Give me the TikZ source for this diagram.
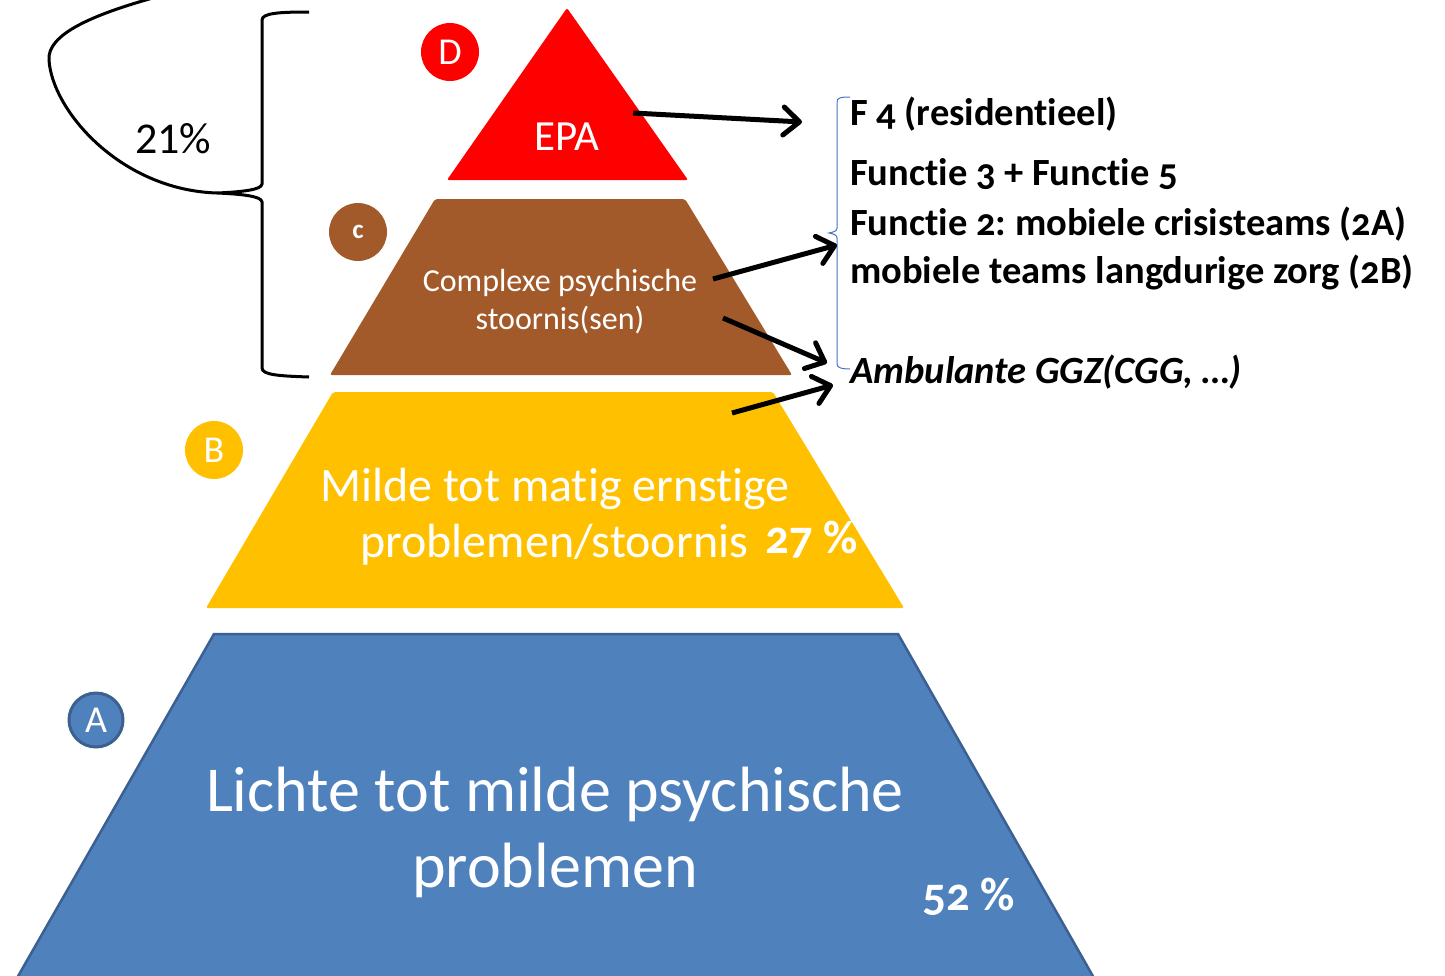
\documentclass[tikz,border=0pt]{standalone}
\usepackage{fontspec}
\setmainfont{Carlito}[Numbers=OldStyle, Ligatures=CommonOff]
\newfontfamily\lining{Carlito}
\usetikzlibrary{arrows.meta}
\definecolor{epared}{HTML}{FF0000}
\definecolor{cbrown}{HTML}{A25A2B}
\definecolor{byellow}{HTML}{FFC000}
\definecolor{ablue}{HTML}{4F81BD}
\definecolor{ablueline}{HTML}{3B6091}
\definecolor{bracblue}{HTML}{4472C4}
\tikzset{
  wtext/.style={text=white, inner sep=0pt},
  btext/.style={text=black, inner sep=0pt, anchor=base west, font=\fontsize{38.5}{46}\selectfont\bfseries},
  badge/.style={circle, minimum size=58pt, inner sep=0pt, text=white, font=\fontsize{38}{42}\selectfont},
  arr/.style={line width=5pt, -{Straight Barb[round, length=16pt,width=28pt]}},
}
\frenchspacing
\begin{document}
\frenchspacing
\begin{tikzpicture}[x=1pt,y=-1pt]
\useasboundingbox (0,0) rectangle (1445,975);
\clip (0,0) rectangle (1445,975);

% Level D
\fill[epared, rounded corners=2pt] (447,180) -- (567,8) -- (688,180) -- cycle;
\node[wtext, font=\fontsize{43}{50}\selectfont] (epa) at (567,137) {EPA};
\node[badge, fill=epared] (bd) at (450,52) {D};

% Level C
\fill[cbrown, rounded corners=2pt] (330,375) -- (435,199) -- (685,199) -- (792,375) -- cycle;
\node[wtext, align=center, font=\fontsize{32}{38}\selectfont] (cpx) at (560,302) {Complexe psychische\\stoornis(sen)};
\node[badge, fill=cbrown, font=\fontsize{27}{30}\selectfont\bfseries] (bc) at (358,232) {c};

% Level B
\fill[byellow, rounded corners=2pt] (206,608) -- (333,392) -- (773,392) -- (904,608) -- cycle;
\node[wtext, anchor=base west, font=\fontsize{48}{56}\selectfont] (mb1) at (320,501) {Milde tot matig ernstige};
\node[wtext, anchor=base west, font=\fontsize{48}{56}\selectfont] (mb2) at (360,557) {problemen/stoornis};
\node[wtext, anchor=base west, font=\fontsize{47}{54}\selectfont\bfseries] (p27) at (765,553) {27 \%};
\node[badge, fill=byellow] (bb) at (214,450) {B};

% Level A
\filldraw[fill=ablue, draw=ablueline, line width=2.5pt] (17,978) -- (214,634) -- (898,634) -- (1094,978) -- cycle;
\node[wtext, anchor=base, font=\fontsize{64}{76}\selectfont] (la1) at (555,811) {Lichte tot milde psychische};
\node[wtext, anchor=base, font=\fontsize{64}{76}\selectfont] (la2) at (555,887) {problemen};
\node[wtext, anchor=base west, font=\fontsize{47}{54}\selectfont\bfseries] (p52) at (922,910) {52 \%};
\node[badge, fill=ablue, draw=ablueline, line width=3pt, minimum size=54pt] (ba) at (96,720) {A};

% Left brace and arc
\draw[line width=3pt] (309,12) .. controls (280,12) and (262,13) .. (262,20) -- (262,184)
  .. controls (262,190) and (240,192) .. (217,193)
  .. controls (240,194) and (262,196) .. (262,202) -- (262,368)
  .. controls (262,375) and (280,376) .. (309,377);
\coordinate (tip) at (217,193);
\draw[line width=3pt] (tip) .. controls (120,190) and (52,110) .. (49,60)
  .. controls (47,35) and (90,15) .. (160,-4);
\node[inner sep=0pt, anchor=base west, font=\fontsize{44}{50}\selectfont\lining] (p21) at (135,153) {21\%};

% Right brace (blue)
\draw[bracblue, line width=1pt] (850,97) .. controls (840,97) and (837,98) .. (837,102) -- (837,228)
  .. controls (837,231) and (834,232) .. (829,233)
  .. controls (834,234) and (837,235) .. (837,238) -- (837,364)
  .. controls (837,367) and (840,369) .. (850,369);

% Right texts
\node[btext] (t1) at (850,125) {F 4 (residentieel)};
\node[btext] (t2) at (850,185) {Functie 3 + Functie 5};
\node[btext] (t3) at (850,235) {Functie 2: mobiele crisisteams (2A)};
\node[btext] (t4) at (850,283) {mobiele teams langdurige zorg (2B)};
\node[btext, font=\fontsize{38.5}{46}\selectfont\bfseries\itshape] (t5) at (850,383) {Ambulante GGZ(CGG, …)};

% Arrows
\coordinate (a1s) at (633,113); \coordinate (a1e) at (802,122);
\coordinate (a2s) at (713,279); \coordinate (a2e) at (837,245);
\coordinate (a3s) at (723,318); \coordinate (a3e) at (827,363);
\coordinate (a4s) at (732,413); \coordinate (a4e) at (833,385);
\draw[arr] (a1s) -- (a1e);
\draw[arr] (a2s) -- (a2e);
\draw[arr] (a3s) -- (a3e);
\draw[arr] (a4s) -- (a4e);
\end{tikzpicture}
\end{document}
